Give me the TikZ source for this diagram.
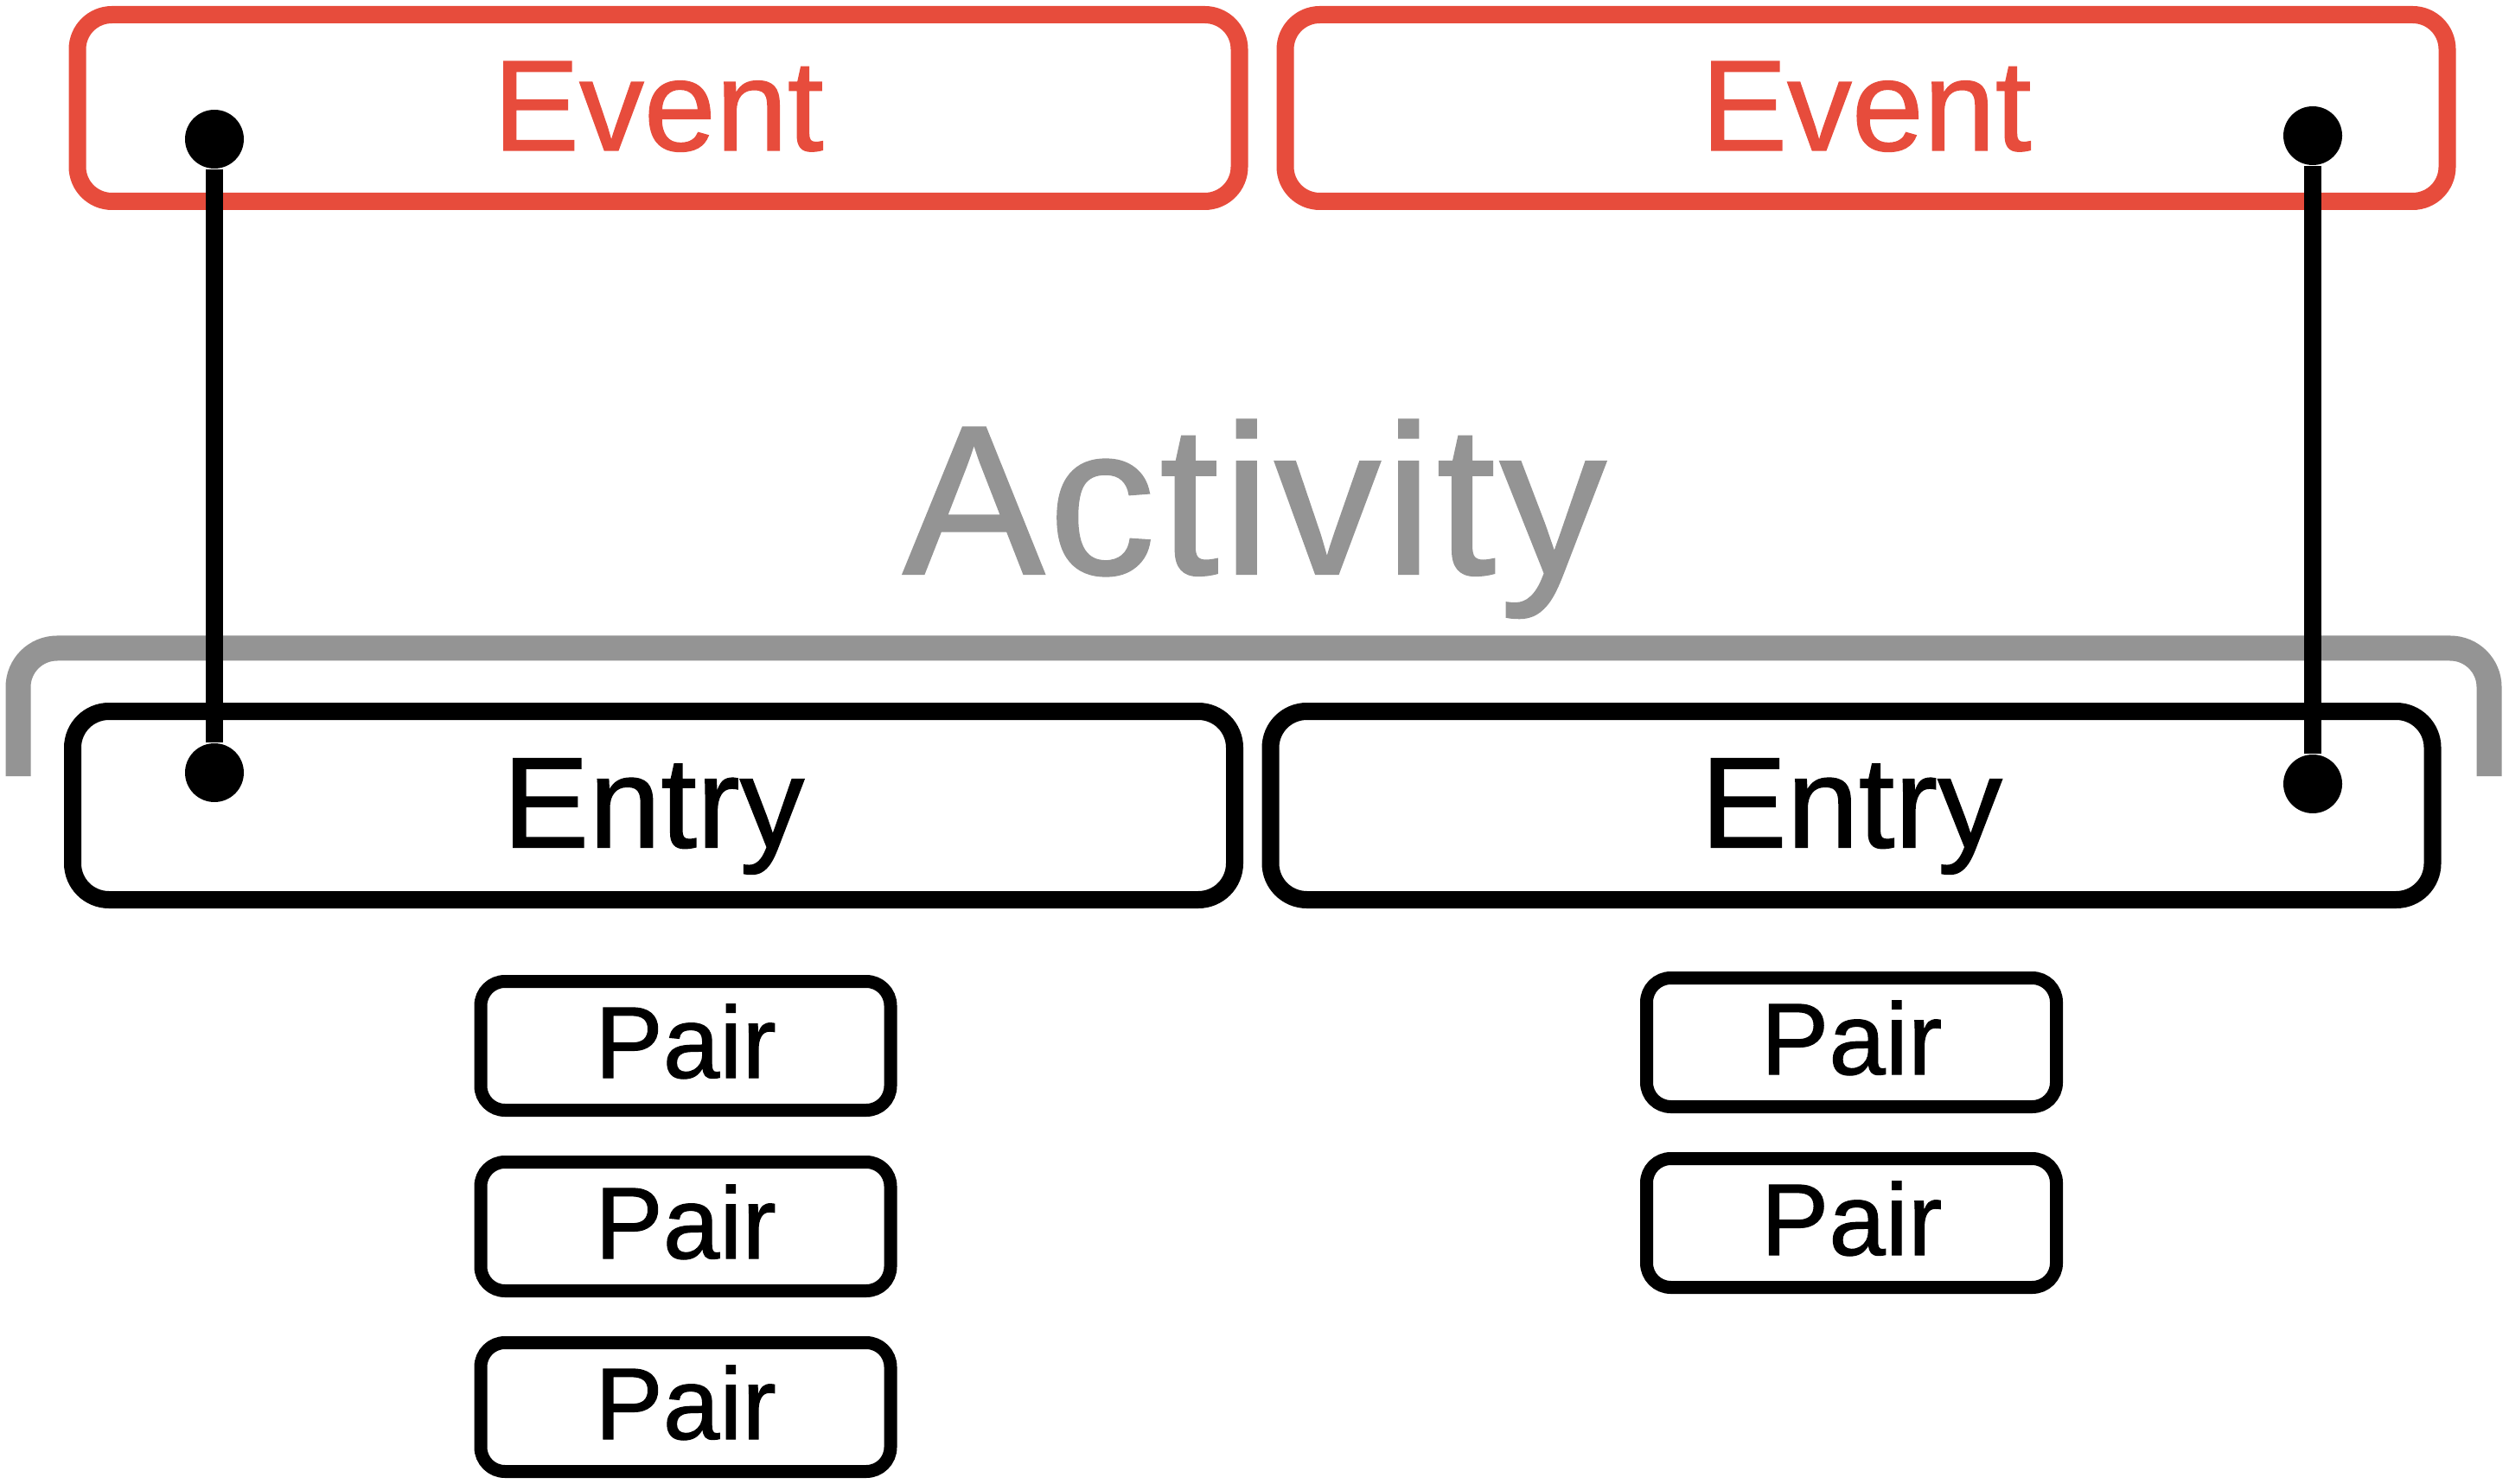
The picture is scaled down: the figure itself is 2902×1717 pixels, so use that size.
\documentclass[tikz,border=0pt]{standalone}
\usepackage{fontspec}
\setmainfont{Liberation Sans}[FakeBold=1]
\newfontfamily\wideface{Liberation Sans}[FakeBold=1, LetterSpace=2]
\usepackage{xcolor}
\usepackage{tikz}
\usetikzlibrary{positioning}

\definecolor{eventred}{RGB}{231,76,60}
\definecolor{actgray}{RGB}{148,148,148}

\begin{document}
\begin{tikzpicture}[x=0.1mm, y=-0.1mm, node distance=4.5mm,
        eventbox/.style={draw=eventred, line width=2mm, rounded corners=4mm, minimum width=134.4mm, minimum height=21.6mm, inner sep=0pt, text=eventred, font=\fontsize{42.5}{50}\selectfont, text height=9.8mm, text depth=0pt},
        entrybox/.style={draw=black, line width=2mm, rounded corners=4.2mm, minimum width=134.4mm, minimum height=21.8mm, inner sep=0pt, font=\fontsize{42.5}{50}\selectfont, text height=9.7mm, text depth=0pt},
        pairbox/.style={draw=black, line width=1.5mm, rounded corners=2.8mm, minimum width=47.4mm, minimum height=14.9mm, inner sep=0pt, font=\fontsize{33.5}{40}\selectfont, text height=7.4mm, text depth=0pt},
        dot/.style={circle, fill=black, minimum size=6.8mm, inner sep=0pt},
        link/.style={draw=black, line width=2mm}]
        \useasboundingbox (0,0) rectangle (2902,1717);

        \node (eventL) [eventbox] at (761.5,125) {Event};
        \node (eventR) [eventbox] at (2158.5,125) {Event};

        \node (activity) [anchor=base, text=actgray, font=\wideface\fontsize{70}{80}\selectfont] at (1451,664) {Activity};
        \draw[actgray, line width=2.9mm, rounded corners=4.5mm] (21,898) -- (21,750) -- (2879,750) -- (2879,898);

        \node (entryL) [entrybox] at (756,932) {Entry};
        \node (entryR) [entrybox] at (2141.5,932) {Entry};

        \node (pairL1) [pairbox] at (793,1210) {Pair};
        \node (pairL2) [pairbox, below=of pairL1] {Pair};
        \node (pairL3) [pairbox, below=of pairL2] {Pair};
        \node (pairR1) [pairbox] at (2141.5,1206) {Pair};
        \node (pairR2) [pairbox, below=of pairR1] {Pair};

        \node (dotEL) [dot] at (248,161) {};
        \node (dotNL) [dot] at (248,894) {};
        \node (dotER) [dot] at (2675,157) {};
        \node (dotNR) [dot] at (2675,907) {};
        \draw[link] (dotEL) -- (dotNL);
        \draw[link] (dotER) -- (dotNR);
    \end{tikzpicture}
\end{document}
